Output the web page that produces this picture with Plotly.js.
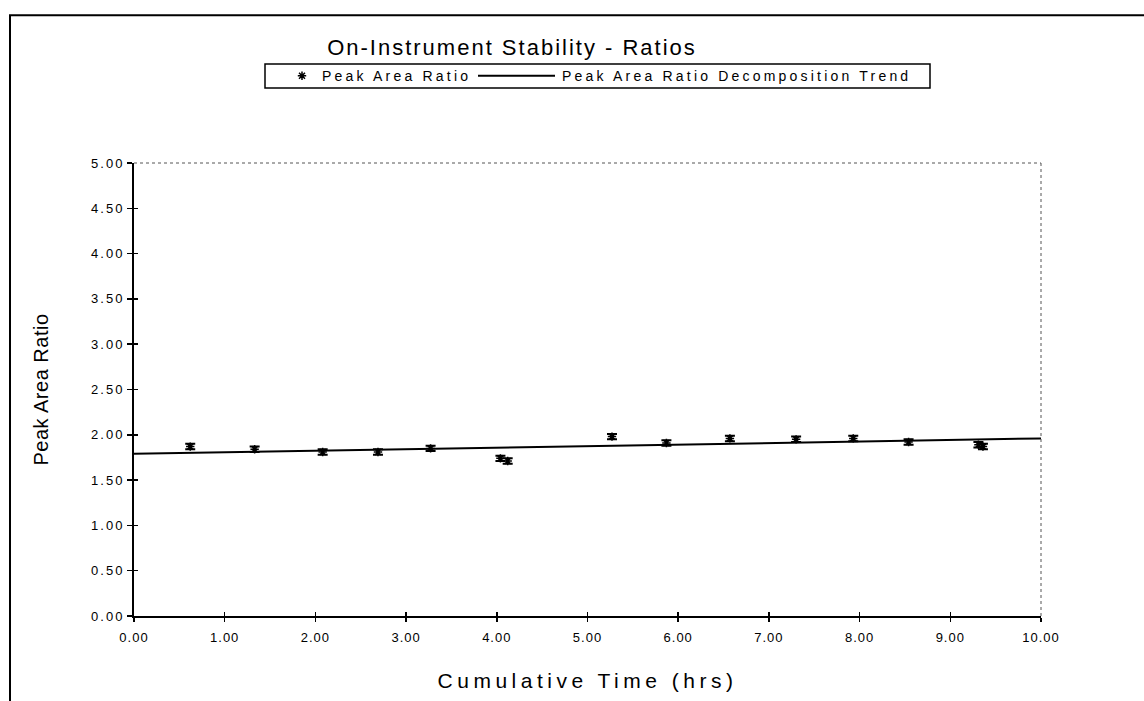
<!DOCTYPE html>
<html>
<head>
<meta charset="utf-8">
<script src="https://cdn.plot.ly/plotly-3.0.1.min.js"></script>
<style>
  html, body { margin: 0; padding: 0; background: #ffffff; }
  #chart { width: 1144px; height: 701px; }
  .gtitle { letter-spacing: 2px; }
  .legendtext, .legend2text { letter-spacing: 3.2px !important; }
  .xtick text { letter-spacing: 1px; }
  .ytick text { letter-spacing: 2px; }
  .g-xtitle text { letter-spacing: 4.5px; }
  .g-ytitle text { letter-spacing: 0.5px; }
</style>
</head>
<body>
<div id="chart"></div>
<script>
// Peak Area Ratio observations (cumulative time in hours)
const timeHrs   = [0.62, 1.33, 2.08, 2.69, 3.27, 4.04, 4.12, 5.27, 5.87, 6.57, 7.30, 7.93, 8.54, 9.31, 9.36];
const ratioVals = [1.87, 1.84, 1.81, 1.81, 1.85, 1.74, 1.71, 1.98, 1.91, 1.96, 1.95, 1.96, 1.92, 1.89, 1.87];

// Decomposition trend line
const trendX = [0, 10];
const trendY = [1.79, 1.96];

const xTickVals = [0,1,2,3,4,5,6,7,8,9,10];
const yTickVals = [0,0.5,1,1.5,2,2.5,3,3.5,4,4.5,5];

const FONT = 'Liberation Sans, Arial, sans-serif';

const traces = [
  {
    x: timeHrs, y: ratioVals,
    name: 'Peak Area Ratio',
    type: 'scatter', mode: 'markers',
    marker: { symbol: 'asterisk-open', size: 7, color: '#000', line: { color: '#000', width: 1.5 } },
    error_y: { type: 'constant', value: 0.03, color: '#000', thickness: 2, width: 5 },
    xaxis: 'x', yaxis: 'y', legend: 'legend'
  },
  {
    x: trendX, y: trendY,
    name: 'Peak Area Ratio Decomposition Trend',
    type: 'scatter', mode: 'lines',
    line: { color: '#000', width: 2 },
    xaxis: 'x', yaxis: 'y', legend: 'legend2'
  },
  {
    x: [0], y: [0], type: 'scatter', mode: 'markers',
    marker: { opacity: 0 }, showlegend: false, hoverinfo: 'skip',
    xaxis: 'x2', yaxis: 'y2'
  }
];

const L = 134, R = 1041, T = 163, B = 616.5;
const W = R - L, H = B - T;
function px(xp) { return (xp - L) / W; }
function py(yp) { return (B - yp) / H; }

const legendFont = { family: FONT, size: 14, color: '#000' };

const layout = {
  width: 1144, height: 701,
  paper_bgcolor: '#fff', plot_bgcolor: '#fff',
  margin: { l: L, r: 1144 - R, t: T, b: 701 - B, pad: 0 },
  font: { family: FONT, color: '#000', size: 12 },
  showlegend: true,
  title: {
    text: 'On-Instrument Stability - Ratios',
    font: { family: FONT, size: 22, color: '#000' },
    x: 512 / 1144, xanchor: 'center', xref: 'container',
    y: 1 - 47 / 701, yanchor: 'middle', yref: 'container'
  },
  legend: {
    orientation: 'h', x: px(282), xanchor: 'left', y: py(76), yanchor: 'middle',
    borderwidth: 0, bgcolor: 'rgba(0,0,0,0)', font: legendFont,
    entrywidth: 200, entrywidthmode: 'pixels'
  },
  legend2: {
    orientation: 'h', x: px(522), xanchor: 'left', y: py(76), yanchor: 'middle',
    borderwidth: 0, bgcolor: 'rgba(0,0,0,0)', font: legendFont,
    entrywidth: 380, entrywidthmode: 'pixels'
  },
  xaxis: {
    range: [0, 10], tickvals: xTickVals, tickformat: '.2f',
    showgrid: false, zeroline: false,
    showline: true, linecolor: '#000', linewidth: 2,
    ticks: 'outside', ticklen: 4, tickwidth: 1.5, tickcolor: '#000',
    ticklabelstandoff: 4,
    tickfont: { family: FONT, size: 13, color: '#000' },
    title: { text: 'Cumulative Time (hrs)', font: { family: FONT, size: 21, color: '#000' }, standoff: 30 }
  },
  yaxis: {
    range: [0, 5], tickvals: yTickVals, tickformat: '.2f',
    showgrid: false, zeroline: false,
    showline: true, linecolor: '#000', linewidth: 2,
    ticks: 'outside', ticklen: 5, tickwidth: 1.5, tickcolor: '#000',
    tickfont: { family: FONT, size: 13, color: '#000' },
    title: { text: 'Peak Area Ratio', font: { family: FONT, size: 20, color: '#000' }, standoff: 37 }
  },
  xaxis2: {
    overlaying: 'x', anchor: 'y2', range: [0, 10], tickvals: xTickVals,
    showticklabels: false, showgrid: false, zeroline: false, showline: false,
    ticks: 'inside', ticklen: 4, tickwidth: 1.5, tickcolor: '#000'
  },
  yaxis2: {
    overlaying: 'y', anchor: 'x2', range: [0, 5], tickvals: yTickVals,
    showticklabels: false, showgrid: false, zeroline: false, showline: false,
    ticks: 'inside', ticklen: 4, tickwidth: 1.5, tickcolor: '#000'
  },
  shapes: [
    { type: 'line', xref: 'x domain', yref: 'y domain', x0: 0, x1: 1, y0: 1, y1: 1,
      line: { color: '#555', width: 1, dash: 'dot' } },
    { type: 'line', xref: 'x domain', yref: 'y domain', x0: 1, x1: 1, y0: 0, y1: 1,
      line: { color: '#555', width: 1, dash: 'dot' } },
    { type: 'rect', xref: 'paper', yref: 'paper',
      x0: px(10), x1: px(1150), y0: py(710), y1: py(15),
      line: { color: '#000', width: 2 }, fillcolor: 'rgba(0,0,0,0)', layer: 'below' },
    { type: 'rect', xref: 'paper', yref: 'paper',
      x0: px(265), x1: px(930), y0: py(88), y1: py(64),
      line: { color: '#000', width: 1.5 }, fillcolor: 'rgba(0,0,0,0)' }
  ]
};

function touchLegend() {
  const gd = document.getElementById('chart');
  gd.querySelectorAll('.legendtext, .legend2text').forEach(function (t) {
    t.style.setProperty('letter-spacing', '3.2px', 'important');
  });
  gd.querySelectorAll('.legendlines path').forEach(function (p) {
    if (p.getAttribute('data-long') !== '1') {
      p.setAttribute('d', 'M-44,0h77');
      p.setAttribute('data-long', '1');
    }
  });
  gd.querySelectorAll('.scrollbox').forEach(function (s) {
    s.removeAttribute('clip-path');
  });
}

const gdEl = document.getElementById('chart');
Plotly.newPlot(gdEl, traces, layout, { displayModeBar: false, staticPlot: true }).then(function () {
  touchLegend();
  gdEl.on && gdEl.on('plotly_afterplot', touchLegend);
  setTimeout(touchLegend, 50);
  setTimeout(touchLegend, 300);
});
</script>
</body>
</html>
